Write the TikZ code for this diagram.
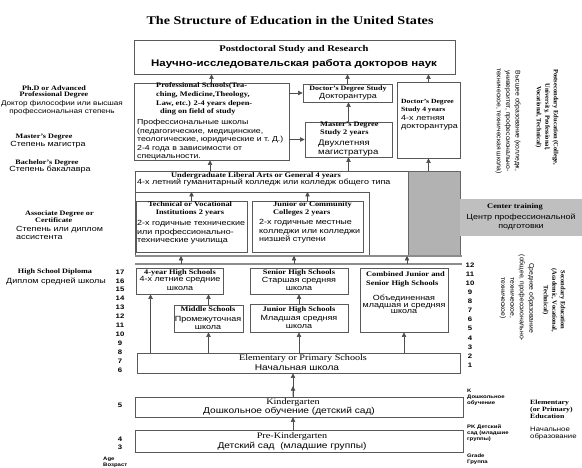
\documentclass[tikz,border=0pt]{standalone}
\usepackage{fontspec}
\setmainfont{Liberation Serif}[FakeStretch=1.2]
\newfontfamily\rus{Liberation Sans}[FakeStretch=1.2]
\newfontfamily\sern{Liberation Serif}
\newfontfamily\rusn{Liberation Sans}
\usetikzlibrary{arrows.meta,calc,fit}
\newcommand\mkbox[5]{\node[box,fit={(#2,#3) (#4,#5)}] (#1) {};}
\begin{document}
\begin{tikzpicture}[x=1bp,y=-1bp,
  box/.style={draw=black!65,line width=0.9bp,fill=white,inner sep=0pt},
  boxline/.style={draw=black!65,line width=0.9bp},
  band/.style={draw=black!45,line width=1.8bp},
  arr/.style={draw=black!70,line width=0.6bp,-{Triangle[length=4.5bp,width=4.5bp]}},
  en/.style={font=\fontsize{7}{8.5}\selectfont\bfseries,inner sep=0pt},
  ru/.style={font=\fontsize{7.5}{8.6}\selectfont\rus,inner sep=0pt},
  enb/.style={font=\fontsize{8.5}{9.5}\selectfont,inner sep=0pt},
  rub/.style={font=\fontsize{8.5}{9.5}\selectfont\rus,inner sep=0pt},
  lbl/.style={font=\fontsize{6.8}{6.8}\selectfont\bfseries,inner sep=0pt},
  lru/.style={font=\fontsize{7.5}{8}\selectfont\rus,inner sep=0pt},
  num/.style={font=\fontsize{6.5}{7}\selectfont\rus\bfseries,inner sep=0pt},
  tiny/.style={font=\fontsize{5}{5.8}\selectfont\rus\bfseries,inner sep=0pt},
  ven/.style={rotate=-90,align=center,font=\fontsize{6.5}{8.5}\selectfont\sern\bfseries,inner sep=0pt},
  vru/.style={rotate=-90,align=center,font=\fontsize{6.8}{9.5}\selectfont\rusn,inner sep=0pt}]
\useasboundingbox[fill=white] (0,0) rectangle (582,468);

\node[font=\fontsize{11.8}{14}\selectfont\bfseries] (title) at (290,20) {The Structure of Education in the United States};

% Postdoctoral
\mkbox{postdoc}{134}{40}{455}{74}
\node[font=\fontsize{8.8}{11}\selectfont\bfseries,inner sep=0pt] (pdE) at (294,49) {Postdoctoral Study and Research};
\node[font=\fontsize{9.6}{12}\selectfont\rus\bfseries,inner sep=0pt] (pdR) at (294,64) {Научно-исследовательская работа докторов наук};

% Professional schools
\mkbox{prof}{134}{83}{289}{160}
\node[en,anchor=west,align=left,font=\fontsize{7}{8.7}\selectfont\bfseries] (profE) at (156,99) {Professional Schools(Tea-\\ching, Medicine,Theology,\\Law, etc.) 2-4 years depen-\\\hspace{4bp}ding on field of study};
\node[ru,anchor=west,align=left,font=\fontsize{7.3}{8.5}\selectfont\rus] (profR) at (137,140) {Профессиональные школы\\(педагогические, медицинские,\\теологические, юридические и т.~Д.)\\2-4 года в зависимости от\\специальности.};

% Doctor's degree study
\mkbox{doc}{303}{84}{392}{102}
\node[en,font=\fontsize{6.7}{8}\selectfont\bfseries] (docE) at (348,89) {Doctor's Degree Study};
\node[ru] (docR) at (348,96.5) {Докторантура};

% Master's
\mkbox{mast}{305}{122}{392}{157}
\node[en,anchor=west,align=left] (mastE) at (320,129) {Master's Degree\\Study 2 years};
\node[ru,anchor=west,align=left,font=\fontsize{8}{9}\selectfont\rus] (mastR) at (318,148.5) {Двухлетняя\\магистратура};

% Doctor 4 years
\mkbox{doc4}{397}{82}{460}{158}
\node[en,anchor=west,align=left,font=\fontsize{6.4}{8}\selectfont\bfseries] (d4E) at (401,106) {Doctor's Degree\\Study 4 years};
\node[ru,anchor=west,align=left] (d4R) at (401,122.5) {4-х летняя\\докторантура};

% Undergraduate
\mkbox{under}{135}{171}{408}{255}
\node[fill=black!30,draw=black!60,line width=0.9bp,inner sep=0pt,fit={(408,171) (460,255)}] (gray) {};
\node[en] (ugE) at (256,175.5) {Undergraduate Liberal Arts or General 4 years};
\node[ru,anchor=west] (ugR) at (137,183) {4-х летний гуманитарный колледж или колледж общего типа};
\coordinate (ilL) at (135,192);
\coordinate (ilC) at (369,192);
\coordinate (ilB) at (369,255);
\draw[boxline] (ilL) -- (ilC) -- (ilB);

\mkbox{tech}{136}{201}{247}{252}
\node[en,align=center] (techE) at (190,209) {Technical or Vocational\\Institutions 2 years};
\node[ru,anchor=west,align=left] (techR) at (137,232.5) {2-х годичные технические\\или профессионально-\\технические училища};

\mkbox{junc}{252}{201}{363}{252}
\node[en,anchor=west,align=left] (jcE) at (273,209) {Junior or Community\\Colleges 2 years};
\node[ru,anchor=west,align=left] (jcR) at (259,231.5) {2-х годичные местные\\колледжи или колледжи\\низшей ступени};

% Center training
\node[fill=black!25,inner sep=0pt,fit={(460,199) (582,236)}] (ct) {};
\node[en] (ctE) at (515,207) {Center training};
\node[ru,align=center] (ctR) at (521,222) {Центр профессиональной\\подготовки};

% bands
\coordinate (laL) at (135,256);
\coordinate (laR) at (462,256);
\coordinate (lbL) at (135,264);
\coordinate (lbR) at (462,264);
\draw[band] (laL) -- (laR);
\draw[band] (lbL) -- (lbR);
\foreach \x/\n in {181/1,294/2,407/3}{
  \coordinate (b\n) at (\x,264);
  \draw[arr] (b\n) -- (b\n |- laL);
}

% High schools
\mkbox{hs4}{136}{268}{223}{294}
\node[en] (hs4E) at (180,273) {4-year High Schools};
\node[ru,align=center] (hs4R) at (180,283.5) {4-х летние средние\\школа};
\mkbox{sen}{250}{268}{348}{294}
\node[en] (senE) at (299,273) {Senior High Schools};
\node[ru,align=center] (senR) at (299,284) {Старшая средняя\\школа};
\mkbox{comb}{360}{268}{448}{332}
\node[en,anchor=west,align=left] (combE) at (366,279.5) {Combined Junior and\\Senior High Schools};
\node[ru,align=center,font=\fontsize{7.5}{6.8}\selectfont\rus] (combR) at (404,304.5) {Объединенная\\младшая и средняя\\школа};
\mkbox{mid}{174}{305}{243}{332}
\node[en] (midE) at (208,309.5) {Middle Schools};
\node[ru,align=center,font=\fontsize{7.5}{8}\selectfont\rus] (midR) at (208,323) {Промежуточная\\школа};
\mkbox{jhs}{250}{304}{348}{332}
\node[en] (jhsE) at (299,310) {Junior High Schools};
\node[ru,align=center] (jhsR) at (299,322) {Младшая средняя\\школа};

\mkbox{elem}{137}{353}{460}{373}
\node[enb] (elE) at (303,358) {Elementary or Primary Schools};
\node[rub] (elR) at (297,368) {Начальная школа};
\mkbox{kg}{135}{397}{463}{417}
\node[enb] (kgE) at (293,402) {Kindergarten};
\node[rub] (kgR) at (289,411.5) {Дошкольное обучение (детский сад)};
\mkbox{prek}{135}{430}{463}{452}
\node[enb] (pkE) at (292,436) {Pre-Kindergarten};
\node[rub] (pkR) at (292,446) {Детский сад\ \ (младшие группы)};

% arrows upper
\draw[arr] (prof.north) -- (prof.north |- postdoc.south);
\draw[arr] (doc.north) -- (doc.north |- postdoc.south);
\draw[arr] (doc4.north) -- (doc4.north |- postdoc.south);
\draw[arr] (doc.west -| prof.east) -- (doc.west);
\draw[arr] (mast.west -| prof.east) -- (mast.west);
\draw[arr] (mast.north) -- (mast.north |- doc.south);
\draw[arr] ([xshift=-1.5bp]prof.south |- under.north) -- ([xshift=-1.5bp]prof.south);
\draw[arr] (mast.south |- under.north) -- (mast.south);
\draw[arr] (doc4.south |- gray.north) -- (doc4.south);
\draw[arr] (tech.north) -- (tech.north |- ilL);
\draw[arr] (junc.north) -- (junc.north |- ilL);

% arrows lower
\draw[arr] ([xshift=15bp]hs4.south west |- elem.north) -- ([xshift=15bp]hs4.south west);
\draw[arr] (mid.south |- elem.north) -- (mid.south);
\draw[arr] (mid.north) -- (mid.north |- hs4.south);
\draw[arr] (jhs.south |- elem.north) -- (jhs.south);
\draw[arr] (jhs.north) -- (sen.south);
\draw[arr] (comb.south |- elem.north) -- (comb.south);
\draw[arr] ([xshift=-6bp]kg.north) -- ([xshift=-6bp]kg.north |- elem.south);
\draw[arr] ([xshift=-6bp]kg.north) -- ($([xshift=-6bp]kg.north)!0.45!([xshift=-6bp]kg.north |- elem.south)$);
\draw[arr] ([xshift=-6bp]prek.north) -- ([xshift=-6bp]prek.north |- kg.south);

% left labels
\node[lbl,align=center] (phdE) at (54,92) {Ph.D or Advanced\\Professional Degree};
\node[lru,align=center,font=\fontsize{6.8}{7.8}\selectfont\rus] (phdR) at (62,107.5) {Доктор философии или высшая\\профессиональная степень};
\node[lbl] (maE) at (44,137) {Master's Degree};
\node[lru] (maR) at (48,144.5) {Степень магистра};
\node[lbl] (baE) at (47,163) {Bachelor's Degree};
\node[lru] (baR) at (50,170) {Степень бакалавра};
\node[lbl,anchor=west,align=left] (asE) at (25,217) {Associate Degree or\\\hspace{10bp}Certificate};
\node[lru,anchor=west,align=left] (asR) at (16,232.5) {Степень или диплом\\ассистента};
\node[lbl] (hsE) at (55,272) {High School Diploma};
\node[lru] (hsR) at (56,282) {Диплом средней школы};

% ages
\foreach \a [count=\i from 0] in {17,16,...,6}{
  \node[num] (age\a) at (120,272+8.9*\i) {\a};
}
\node[num] (age5) at (120,405) {5};
\node[num] (age4) at (120,439) {4};
\node[num] (age3) at (120,447) {3};
\node[tiny,anchor=west,align=left] (ageL) at (103,462) {Age\\Возраст};

% grades
\foreach \g [count=\i from 0] in {12,11,...,1}{
  \node[num] (gr\g) at (470,265+9.1*\i) {\g};
}
\node[tiny,anchor=west,align=left] (kL) at (467,397.5) {K\\Дошкольное\\обучение};
\node[tiny,anchor=west,align=left] (pkL) at (467,433) {PK Детский\\сад (младшие\\группы)};
\node[tiny,anchor=west,align=left] (grL) at (467,459) {Grade\\Группа};
\node[lbl,anchor=west,align=left,font=\fontsize{6.5}{6.8}\selectfont\bfseries] (elL) at (530,409.5) {Elementary\\(or Primary)\\Education};
\node[lru,anchor=west,align=left,font=\fontsize{6.5}{7}\selectfont\rus] (elLR) at (530,433.5) {Начальное\\образование};

% vertical labels
\node[ven] (psE) at (547,117) {Postsecondary Education (College,\\University, Professional,\\Vocational, Technical)};
\node[vru] (psR) at (508,121) {Высшее образование (колледж,\\университет, профессионально-\\техническое, техническая школа)};
\node[ven] (seE) at (554,300) {Secondary Education\\(Academic, Vocational,\\Technical)};
\node[vru] (seR) at (517,298) {Среднее образование\\(общее, профессионально-\\техническое,\\техническое)};
\end{tikzpicture}
\end{document}
